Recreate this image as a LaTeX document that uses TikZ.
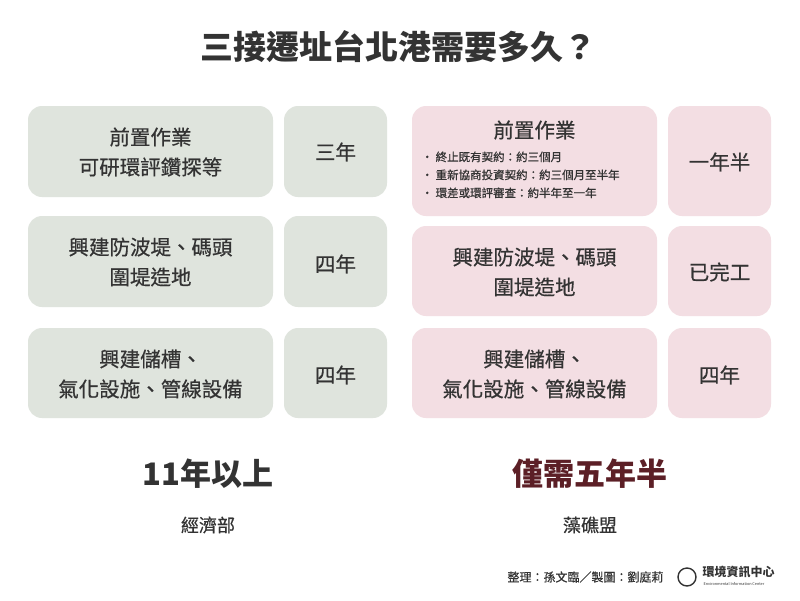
\documentclass[tikz,border=0pt]{standalone}
\usepackage{fontspec}
\setmainfont{Noto Sans CJK TC}
\newfontfamily\med[FakeBold=0.6]{Noto Sans CJK TC}
\definecolor{gbox}{HTML}{DFE4DD}
\definecolor{pbox}{HTML}{F3DEE3}
\definecolor{txt}{HTML}{333333}
\definecolor{maroon}{HTML}{5C1F26}
\tikzset{
 gb/.style={fill=gbox,rounded corners=14pt,draw=none},
 pb/.style={fill=pbox,rounded corners=14pt,draw=none},
 lbl/.style={text=txt,font=\med\fontsize{20.5}{30}\selectfont,align=center},
}
\begin{document}
\begin{tikzpicture}[x=1pt,y=-1pt]
\fill[white] (0,0) rectangle (800,600);
\useasboundingbox (0,0) rectangle (800,600);
\node[text=txt,font=\bfseries\fontsize{33}{36}\selectfont] (title) at (398,47) {三接遷址台北港需要多久？};
% left
\fill[gb] (28,106) rectangle (273,197); \fill[gb] (284,106) rectangle (387,197);
\fill[gb] (28,216) rectangle (273,307); \fill[gb] (284,216) rectangle (387,307);
\fill[gb] (28,328) rectangle (273,418); \fill[gb] (284,328) rectangle (387,418);
\node[lbl] (l1) at (150.5,152) {前置作業\\可研環評鑽探等};
\node[lbl] (l1r) at (335.5,152) {三年};
\node[lbl] (l2) at (150.5,262) {興建防波堤、碼頭\\圍堤造地};
\node[lbl] (l2r) at (335.5,264) {四年};
\node[lbl] (l3) at (150.5,374) {興建儲槽、\\氣化設施、管線設備};
\node[lbl] (l3r) at (335.5,375) {四年};
% right
\fill[pb] (412,106) rectangle (657,216); \fill[pb] (668,106) rectangle (771,216);
\fill[pb] (412,226) rectangle (657,316); \fill[pb] (668,226) rectangle (771,316);
\fill[pb] (412,328) rectangle (657,418); \fill[pb] (668,328) rectangle (771,418);
\node[lbl] (r1) at (534.5,130) {前置作業};
\node[text=txt,font=\med\fontsize{11.5}{18}\selectfont,align=left,anchor=north west] (r1b) at (418,148) {・ 終止既有契約：約三個月\\・ 重新協商投資契約：約三個月至半年\\・ 環差或環評審查：約半年至一年};
\node[lbl] (r1r) at (719.5,162) {一年半};
\node[lbl] (r2) at (534.5,272) {興建防波堤、碼頭\\圍堤造地};
\node[lbl] (r2r) at (719.5,272) {已完工};
\node[lbl] (r3) at (534.5,374) {興建儲槽、\\氣化設施、管線設備};
\node[lbl] (r3r) at (719.5,375) {四年};
% bottom
\node[text=txt,font=\bfseries\fontsize{31}{36}\selectfont] (lt) at (208,474) {11年以上};
\node[text=txt,font=\med\fontsize{18}{22}\selectfont] (ls) at (208,525) {經濟部};
\node[text=maroon,font=\bfseries\fontsize{31}{36}\selectfont] (rt) at (590,474) {僅需五年半};
\node[text=txt,font=\med\fontsize{18}{22}\selectfont] (rs) at (590,525) {藻礁盟};
\node[text=txt,font=\med\fontsize{12}{14}\selectfont,anchor=east] (credit) at (667,577) {整理：孫文臨／製圖：劉庭莉};
\node[draw=txt,circle,line width=1.4pt,minimum size=18pt,inner sep=0pt] (logo) at (687,577) {};
\node[text=txt,font=\bfseries\fontsize{12}{12}\selectfont,anchor=west] (org) at (699,572) {環境資訊中心};
\node[text=txt,font=\fontsize{3.8}{4}\selectfont,anchor=west] (orge) at (700,584) {Environmental Information Center};
\end{tikzpicture}
\end{document}
